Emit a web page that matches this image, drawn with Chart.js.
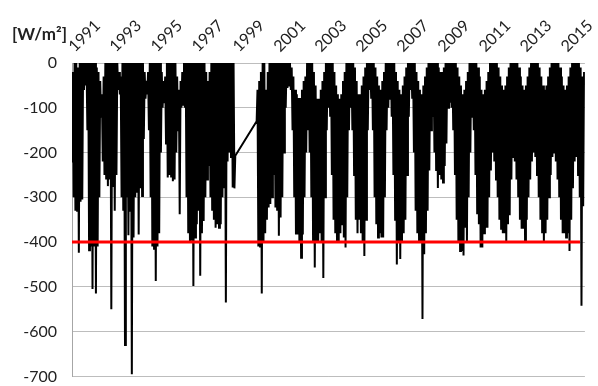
<!DOCTYPE html>
<html><head><meta charset="utf-8">
<script src="https://cdn.jsdelivr.net/npm/chart.js@4.4.1/dist/chart.umd.min.js"></script>
<style>
html,body{margin:0;padding:0;background:#fff;}
#wrap{position:relative;width:598px;height:386px;}
#unit{position:absolute;left:12px;top:23px;font:bold 17px Lato, sans-serif;color:#222;white-space:nowrap;}
canvas{position:absolute;left:0;top:0;}
</style></head><body>
<div id="wrap"><canvas id="c" width="598" height="386"></canvas><div id="unit">[W/m²]</div></div>
<script>
// tick labels
const tickYears = [1991,1993,1995,1997,1999,2001,2003,2005,2007,2009,2011,2013,2015];
const yTicks = [0,-100,-200,-300,-400,-500,-600,-700];
// threshold line
const thresholdValue = -400;
const thresholdSpan = [1991, 2015.76];
// semi-monthly read values per year (alternating deep / shallow readings)
const v1991 = [-220,-20,-300,0,-330,0,-330,-10,-424,0,-310,0,-305,0,-60,0,-50,0,-150,0,-418,0,-410,0];
const v1992 = [-505,0,-410,0,-515,-10,-410,-20,-300,-40,-120,-70,-220,-30,-250,0,-260,0,-275,0,-260,0,-550,0];
const v1993 = [-275,0,-330,0,-250,0,-60,-20,-70,-30,-300,0,-330,0,-630,0,-300,0,-385,0,-330,0,-695,0];
const v1994 = [-390,0,-300,0,-290,0,-383,0,-280,0,-297,0,-170,-20,-80,-40,-70,-20,-150,0,-300,0,-410,0];
const v1995 = [-415,0,-487,0,-410,0,-380,0,-200,-20,-100,-40,-90,-30,-180,0,-256,0,-250,0,-256,0,-264,0];
const v1996 = [-260,0,-200,-30,-150,-60,-338,-40,-100,-20,-93,0,-100,0,-300,0,-380,0,-400,0,-397,0,-498,0];
const v1997 = [-390,0,-360,0,-330,0,-475,0,-380,0,-353,0,-300,-20,-260,-40,-230,-20,-300,0,-330,0,-350,0];
const v1998 = [-368,0,-360,0,-368,0,-360,0,-300,0,-280,0,-535,0,-220,0,-200,0,-210,0,-278,0,-280,-207];
const v2000 = [-130,-60,-410,-40,-410,-20,-515,0,-400,0,-380,-60,-350,-20,-323,0,-315,0,-300,0,-250,0,-323,0];
const v2001 = [-330,0,-386,0,-345,0,-300,0,-200,0,-100,0,-56,0,-50,0,-60,-10,-150,-30,-300,-60,-383,-70];
const v2002 = [-383,-78,-400,-78,-435,-60,-383,-40,-300,-30,-200,0,-150,0,-200,0,-300,0,-400,-20,-457,-50,-400,-80];
const v2003 = [-400,-80,-380,-60,-400,-40,-480,-20,-300,0,-150,0,-100,0,-120,0,-250,0,-350,-20,-380,-50,-400,-70];
const v2004 = [-400,-80,-380,-70,-360,-40,-390,-20,-412,0,-300,0,-150,0,-100,0,-150,0,-250,-10,-350,-40,-380,-70];
const v2005 = [-350,-70,-380,-50,-400,-30,-431,-10,-350,0,-150,0,-60,0,-80,0,-150,0,-300,-10,-360,-30,-390,-50];
const v2006 = [-380,-60,-390,-40,-390,-20,-300,0,-150,0,-100,0,-80,0,-120,0,-250,0,-350,-20,-450,-40,-400,-60];
const v2007 = [-438,-70,-400,-50,-380,-30,-350,-10,-250,0,-120,0,-60,0,-80,0,-200,0,-330,-20,-380,-40,-400,-60];
const v2008 = [-400,-70,-572,-50,-427,-30,-380,-10,-330,0,-240,0,-150,0,-120,0,-200,0,-241,0,-279,-10,-250,-20];
const v2009 = [-260,-20,-267,-10,-230,0,-180,0,-100,0,-89,0,-100,0,-150,0,-250,0,-350,-10,-400,-30,-420,-50];
const v2010 = [-420,-70,-430,-60,-368,-40,-400,-20,-300,0,-200,0,-120,0,-150,0,-250,0,-338,-10,-360,-30,-412,-60];
const v2011 = [-412,-70,-380,-60,-368,-40,-368,-20,-300,0,-240,0,-200,0,-220,0,-260,0,-300,-10,-350,-30,-370,-50];
const v2012 = [-380,-60,-380,-50,-398,-30,-360,-10,-340,0,-260,0,-210,0,-220,0,-260,0,-300,-10,-350,-30,-370,-50];
const v2013 = [-370,-60,-398,-50,-350,-30,-300,-10,-260,0,-220,0,-200,0,-210,0,-250,0,-300,-10,-350,-30,-380,-50];
const v2014 = [-401,-60,-380,-50,-350,-30,-300,-10,-250,0,-210,0,-200,0,-220,0,-260,0,-300,-10,-350,-30,-380,-50];
const v2015 = [-380,-60,-390,-50,-380,-30,-420,-10,-350,0,-280,0,-220,0,-210,0,-250,0,-300,-10,-542,-30,-320,-20];

const yearList = [1991,1992,1993,1994,1995,1996,1997,1998,2000,2001,2002,2003,2004,2005,2006,2007,2008,2009,2010,2011,2012,2013,2014,2015];
const yearValues = [v1991,v1992,v1993,v1994,v1995,v1996,v1997,v1998,v2000,v2001,v2002,v2003,v2004,v2005,v2006,v2007,v2008,v2009,v2010,v2011,v2012,v2013,v2014,v2015];

const points = [];
yearList.forEach((yr, j) => {
  const vals = yearValues[j];
  vals.forEach((v, i) => points.push({x: yr + i / vals.length, y: v}));
});

const fontFam = 'Lato, "Liberation Sans", sans-serif';
new Chart(document.getElementById('c'), {
  type: 'line',
  data: {
    datasets: [
      {data: thresholdSpan.map(x => ({x, y: thresholdValue})), borderColor: '#ff0000', borderWidth: 3, pointRadius: 0, order: 0},
      {data: points, borderColor: '#000', borderWidth: 2, pointRadius: 0, tension: 0, order: 1}
    ]
  },
  options: {
    responsive: false, animation: false, devicePixelRatio: 1,
    layout: {padding: {left: 0, right: 9, top: 0, bottom: 9}},
    plugins: {legend: {display: false}, tooltip: {enabled: false}},
    scales: {
      x: {
        type: 'linear', position: 'top', min: 1991, max: 2016,
        afterBuildTicks: s => { s.ticks = tickYears.map(v => ({value: v})); },
        afterFit: s => { s.height = 63; },
        grid: {display: false, drawTicks: false}, border: {display: false},
        ticks: {autoSkip: false, minRotation: 45, maxRotation: 45, padding: 7, labelOffset: 13,
          font: {family: fontFam, size: 16}, color: '#222', callback: v => String(v)}
      },
      y: {
        min: -700, max: 0,
        afterBuildTicks: s => { s.ticks = yTicks.map(v => ({value: v})); },
        afterFit: s => { s.width = 72; },
        grid: {color: '#bdbdbd', drawTicks: true, tickLength: 15, tickColor: 'rgba(0,0,0,0)', lineWidth: 1},
        border: {display: true, color: '#a6a6a6'},
        ticks: {padding: 0, font: {family: fontFam, size: 16}, color: '#222', callback: v => String(v)}
      }
    }
  }
});
</script>
</body></html>
